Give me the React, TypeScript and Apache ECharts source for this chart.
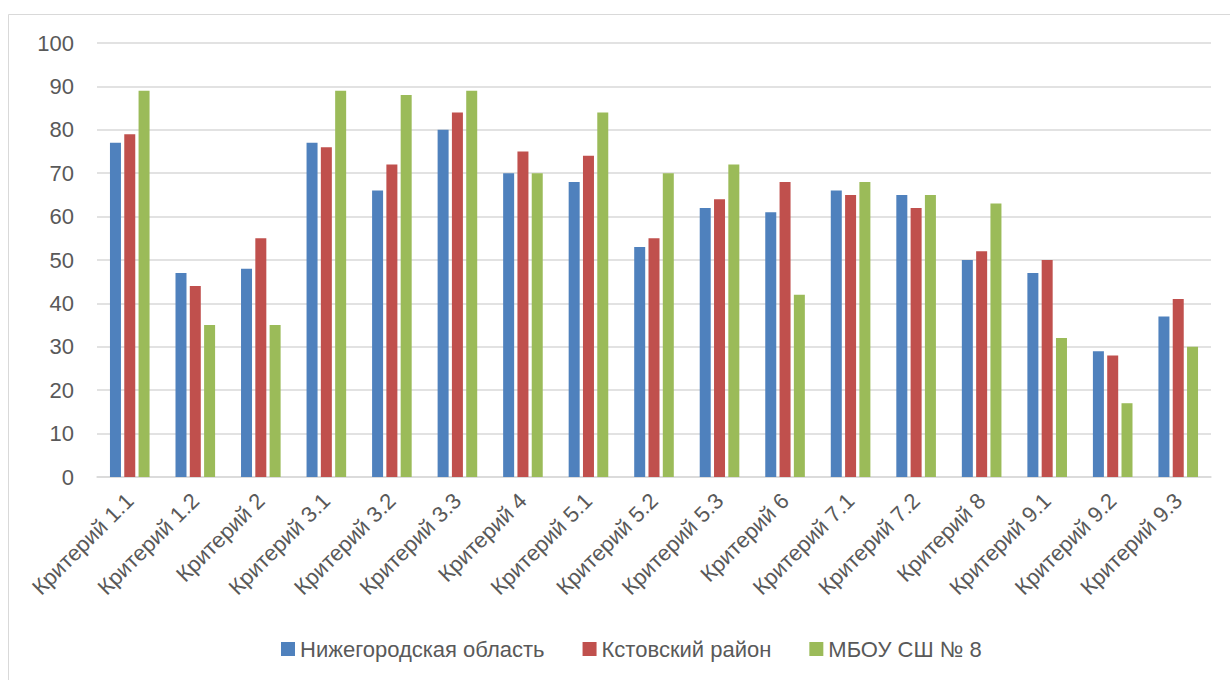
import React, { useEffect, useRef } from "react";
import * as echarts from "echarts";

const categories = [
  "Критерий 1.1", "Критерий 1.2", "Критерий 2", "Критерий 3.1", "Критерий 3.2",
  "Критерий 3.3", "Критерий 4", "Критерий 5.1", "Критерий 5.2", "Критерий 5.3",
  "Критерий 6", "Критерий 7.1", "Критерий 7.2", "Критерий 8", "Критерий 9.1",
  "Критерий 9.2", "Критерий 9.3",
];
const seriesNames = ["Нижегородская область", "Кстовский район", "МБОУ СШ № 8"];
const regionValues = [77, 47, 48, 77, 66, 80, 70, 68, 53, 62, 61, 66, 65, 50, 47, 29, 37];
const districtValues = [79, 44, 55, 76, 72, 84, 75, 74, 55, 64, 68, 65, 62, 52, 50, 28, 41];
const schoolValues = [89, 35, 35, 89, 88, 89, 70, 84, 70, 72, 42, 68, 65, 63, 32, 17, 30];
const colors = ["#4F81BD", "#C0504D", "#9BBB59"];

const FONT = "'Liberation Sans', Arial, sans-serif";

export default function App() {
  const ref = useRef<HTMLDivElement>(null);
  useEffect(() => {
    document.body.style.margin = "0";
    const chart = echarts.init(ref.current!, null, { renderer: "svg" });
    const data = [regionValues, districtValues, schoolValues];
    chart.setOption({
      animation: false,
      backgroundColor: "#ffffff",
      textStyle: { fontFamily: FONT },
      graphic: [
        {
          type: "rect",
          shape: { x: 8.5, y: 14.5, width: 1260, height: 700 },
          style: { fill: "none", stroke: "#d9d9d9", lineWidth: 1 },
          silent: true,
        },
      ],
      grid: { left: 97, right: 19, top: 43, bottom: 203, containLabel: false },
      legend: {
        top: 633,
        left: 276,
        icon: "rect",
        itemWidth: 14,
        itemHeight: 14,
        itemGap: 38,
        textStyle: { fontSize: 22, color: "#595959", fontFamily: FONT },
        data: seriesNames,
      },
      xAxis: {
        type: "category",
        data: categories,
        axisLine: { show: true, lineStyle: { color: "#d9d9d9", width: 1.5 } },
        axisTick: { show: false },
        axisLabel: {
          rotate: 45,
          interval: 0,
          fontSize: 22,
          color: "#595959",
          margin: 20,
          fontFamily: FONT,
        },
      },
      yAxis: {
        type: "value",
        min: 0,
        max: 100,
        interval: 10,
        axisLine: { show: false },
        axisTick: { show: false },
        axisLabel: { fontSize: 22, color: "#595959", margin: 23, fontFamily: FONT },
        splitLine: { lineStyle: { color: "#d9d9d9", width: 1.5 } },
      },
      series: seriesNames.map((name, i) => ({
        name,
        type: "bar",
        data: data[i],
        barWidth: 11,
        barGap: "30%",
        itemStyle: { color: colors[i] },
      })),
    });
    return () => chart.dispose();
  }, []);
  return <div ref={ref} style={{ width: 1230, height: 680 }} />;
}
